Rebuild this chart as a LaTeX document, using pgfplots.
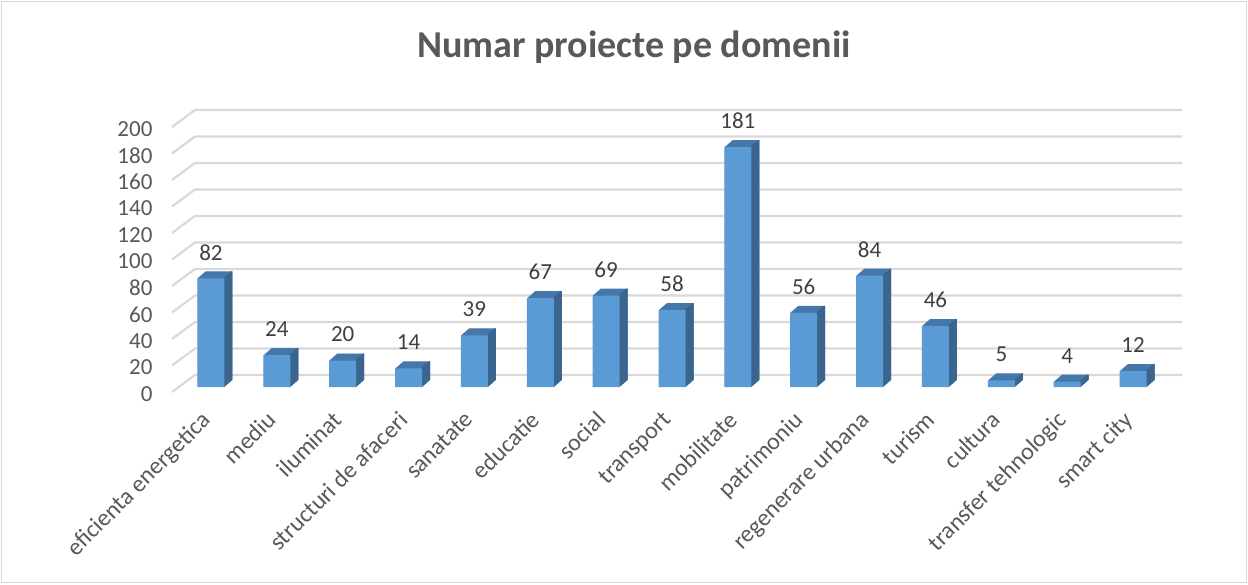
\documentclass[border=0pt]{standalone}
\usepackage{pgfplots}
\usepackage{pgfplotstable}
\pgfplotsset{compat=1.18}
\usepackage{fontspec}
\setmainfont{Carlito}
\definecolor{frontc}{HTML}{5B9BD5}
\definecolor{topc}{HTML}{4677AB}
\definecolor{sidec}{HTML}{3A658F}
\definecolor{gridc}{HTML}{D9D9D9}
\definecolor{txt}{HTML}{595959}
\definecolor{vtxt}{HTML}{404040}
\pgfplotstableread{
x y
0 82
1 24
2 20
3 14
4 39
5 67
6 69
7 58
8 181
9 56
10 84
11 46
12 5
13 4
14 12
}\data
\begin{document}
\begin{tikzpicture}
\useasboundingbox (0,0) rectangle (1248pt,584pt);
\fill[white] (0,0) rectangle (1248pt,584pt);
\draw[gridc, line width=1pt] (1.5pt,1.5pt) rectangle (1246.5pt,582.5pt);
\node[font=\fontsize{38}{45}\selectfont\bfseries, text=txt] at (634pt,537pt) {Numar proiecte pe domenii};
\begin{axis}[at={(178pt,197pt)}, anchor=south west, scale only axis,
  width=988pt, height=265pt,
  xmin=-0.5, xmax=14.5, ymin=0, ymax=200,
  axis line style={draw=none}, major tick length=0pt,
  ytick={0,20,...,200}, xtick={0,...,14},
  xticklabels={eficienta energetica, mediu, iluminat, structuri de afaceri, sanatate, educatie, social, transport, mobilitate, patrimoniu, regenerare urbana, turism, cultura, transfer tehnologic, smart city},
  tick label style={font=\fontsize{23}{28}\selectfont, text=txt},
  yticklabel style={xshift=-22pt, yshift=-7pt},
  xticklabel style={font=\fontsize{24}{28}\selectfont, xshift=-11pt, yshift=-18pt, rotate=45, anchor=north east},
  /pgf/number format/assume math mode=true,
  ybar, bar width=27pt, clip=false]
\pgfplotsinvokeforeach{0,20,...,200}{
  \draw[gridc, line width=2.2pt] ([xshift=-6pt,yshift=-5pt]axis cs:-0.5,#1) -- ([xshift=17pt,yshift=12pt]axis cs:-0.5,#1) -- ([xshift=16pt,yshift=12pt]axis cs:14.5,#1);
}
\pgfplotsinvokeforeach{0.5,1,...,8}{
  \addplot[fill=topc, draw=none, bar shift=0pt, xshift=#1pt, yshift=0.875*#1pt] table[x=x,y=y]{\data};
}
\pgfplotsinvokeforeach{0.5,1,...,8}{
  \addplot[fill=sidec, draw=none, bar width=1.5pt, bar shift=12.75pt, xshift=#1pt, yshift=0.875*#1pt] table[x=x,y=y]{\data};
}
\addplot[fill=frontc, draw=none, bar shift=0pt, nodes near coords,
  nodes near coords style={font=\fontsize{23}{28}\selectfont, text=vtxt, anchor=center, yshift=26pt}] table[x=x,y=y]{\data};
\end{axis}
\end{tikzpicture}
\end{document}
